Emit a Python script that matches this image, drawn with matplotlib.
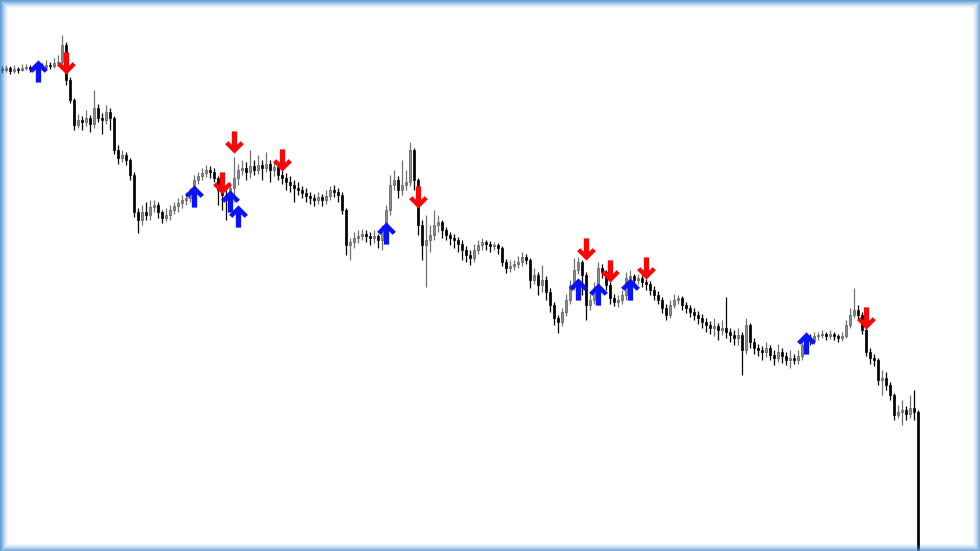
import numpy as np
import matplotlib.pyplot as plt
from matplotlib.path import Path
from matplotlib.patches import Rectangle

first_open = 531
close = [530, 532, 529, 531, 530, 532, 533, 531, 532, 534,
         533, 535, 534, 537, 538, 555, 520, 500, 475, 480,
         478, 482, 476, 492, 482, 480, 488, 482, 450, 442,
         445, 440, 425, 388, 380, 388, 385, 393, 395, 388,
         382, 385, 390, 394, 397, 400, 402, 406, 420, 424,
         427, 430, 428, 422, 410, 405, 400, 412, 422, 430,
         432, 428, 434, 430, 435, 432, 436, 430, 433, 425,
         422, 418, 415, 412, 410, 407, 404, 402, 400, 403,
         400, 404, 410, 408, 405, 390, 355, 358, 362, 364,
         366, 364, 362, 364, 360, 368, 390, 415, 420, 410,
         415, 418, 450, 420, 375, 355, 360, 365, 375, 378,
         370, 365, 362, 360, 356, 350, 345, 342, 350, 355,
         358, 356, 354, 355, 352, 338, 332, 334, 336, 338,
         343, 340, 320, 325, 315, 320, 308, 295, 282, 278,
         288, 300, 315, 330, 338, 325, 295, 300, 310, 332,
         328, 315, 302, 298, 300, 305, 322, 324, 320, 322,
         318, 316, 310, 305, 300, 292, 285, 295, 300, 302,
         295, 292, 288, 285, 282, 278, 275, 272, 274, 270,
         272, 268, 265, 262, 265, 250, 275, 258, 252, 250,
         248, 252, 245, 242, 248, 244, 240, 242, 240, 244,
         255, 263, 260, 264, 265, 266, 264, 266, 264, 262,
         264, 275, 285, 290, 285, 270, 248, 242, 240, 220,
         222, 215, 205, 185, 188, 190, 186, 192, 188, 40]
high = [534, 535, 534, 535, 533, 536, 536, 535, 536, 538,
        537, 540, 538, 542, 545, 565, 558, 523, 502, 486,
        484, 490, 485, 510, 496, 487, 495, 492, 484, 455,
        450, 448, 442, 428, 392, 395, 398, 400, 400, 398,
        390, 392, 395, 398, 402, 405, 408, 412, 425, 428,
        432, 435, 434, 432, 424, 413, 410, 418, 443, 436,
        440, 438, 450, 440, 445, 440, 448, 440, 438, 436,
        430, 427, 424, 420, 418, 414, 412, 408, 406, 408,
        406, 410, 414, 415, 412, 408, 392, 362, 368, 370,
        371, 370, 368, 370, 366, 375, 395, 425, 430, 424,
        440, 430, 458, 452, 422, 380, 385, 375, 390, 385,
        380, 373, 368, 366, 363, 360, 354, 350, 356, 360,
        362, 360, 359, 358, 357, 354, 341, 340, 340, 344,
        348, 346, 342, 332, 328, 335, 324, 312, 298, 285,
        292, 306, 320, 342, 343, 340, 328, 306, 318, 338,
        336, 330, 318, 306, 305, 310, 328, 330, 326, 326,
        325, 321, 319, 314, 309, 303, 296, 300, 306, 305,
        304, 298, 295, 292, 289, 286, 282, 279, 282, 277,
        280, 303, 272, 270, 272, 268, 282, 277, 262, 256,
        254, 258, 255, 250, 256, 252, 248, 250, 246, 250,
        262, 268, 266, 268, 268, 270, 268, 270, 268, 266,
        268, 280, 292, 312, 295, 288, 272, 252, 246, 242,
        230, 228, 218, 207, 195, 200, 194, 205, 210, 190]
low = [527, 528, 526, 527, 527, 529, 530, 528, 529, 530,
       530, 531, 531, 532, 534, 536, 515, 497, 470, 472,
       470, 474, 468, 472, 478, 466, 476, 470, 446, 436,
       438, 435, 420, 383, 367, 375, 380, 380, 388, 382,
       377, 379, 380, 386, 388, 392, 395, 398, 402, 416,
       420, 423, 422, 418, 395, 390, 380, 395, 398, 415,
       425, 420, 422, 425, 426, 420, 428, 418, 424, 420,
       416, 410, 408, 398, 405, 402, 398, 396, 394, 396,
       394, 396, 400, 403, 398, 386, 345, 340, 352, 357,
       360, 358, 355, 357, 352, 350, 364, 385, 410, 402,
       405, 410, 414, 410, 365, 340, 313, 348, 360, 368,
       362, 360, 355, 352, 348, 340, 338, 335, 338, 346,
       350, 350, 348, 350, 346, 334, 327, 328, 330, 332,
       334, 336, 312, 316, 305, 308, 300, 288, 275, 267,
       274, 284, 296, 310, 326, 305, 280, 290, 296, 305,
       322, 310, 296, 294, 293, 296, 300, 318, 315, 316,
       313, 310, 305, 300, 296, 287, 280, 282, 292, 296,
       290, 287, 283, 280, 276, 272, 268, 266, 264, 260,
       265, 262, 258, 255, 255, 225, 246, 252, 246, 244,
       240, 243, 240, 235, 238, 237, 235, 232, 236, 236,
       240, 252, 255, 256, 260, 262, 260, 261, 260, 258,
       259, 262, 272, 282, 280, 266, 244, 236, 234, 215,
       205, 210, 200, 180, 182, 175, 180, 182, 180, 0]

# signal arrows: candle index and price level
buy_idx = [9, 48, 57, 59, 96, 144, 149, 157, 201]
buy_price = [529, 404, 399, 384, 367, 311, 306, 311, 257]
sell_idx = [16, 55, 58, 70, 104, 146, 152, 161, 216]
sell_price = [537, 417, 458, 440, 403, 351, 329, 332, 282]

close = np.array(close, dtype=float)
high = np.array(high, dtype=float)
low = np.array(low, dtype=float)
opn = np.concatenate([[first_open], close[:-1]])
idx = np.arange(len(close))
bull = close >= opn

fig = plt.figure(figsize=(9.8, 5.51), dpi=100)
ax = fig.add_axes([0, 0, 1, 1])
ax.set_xlim(-0.5, 244.5)
ax.set_ylim(49, 600)
ax.axis('off')

wick_col = np.where(bull, '#707070', '#000000')
ax.vlines(idx, low, high, colors=wick_col, linewidth=0.9, zorder=2)
body_h = np.maximum(np.abs(close - opn), 0.8)
ax.bar(idx[bull], body_h[bull], bottom=np.minimum(opn, close)[bull], width=0.7,
       color='#8c8c8c', edgecolor='#5a5a5a', linewidth=0.5, zorder=3)
ax.bar(idx[~bull], body_h[~bull], bottom=np.minimum(opn, close)[~bull], width=0.7,
       color='#000000', edgecolor='#000000', linewidth=0.5, zorder=3)

up_verts = [(0, 1), (0.85, 0.15), (0.55, -0.12), (0.24, 0.2), (0.24, -1),
            (-0.24, -1), (-0.24, 0.2), (-0.55, -0.12), (-0.85, 0.15), (0, 1)]
up_path = Path(up_verts, closed=True)
down_path = Path([(x, -y) for x, y in up_verts], closed=True)

ax.plot(buy_idx, buy_price, linestyle='none', marker=up_path, markersize=16,
        color='#0a14f0', markeredgewidth=0, zorder=5)
ax.plot(sell_idx, sell_price, linestyle='none', marker=down_path, markersize=16,
        color='#f20a0a', markeredgewidth=0, zorder=5)

# blue glow frame
W, H = 980, 551
for k in range(9):
    a = 0.85 * (1 - k / 9) ** 1.8
    fig.add_artist(Rectangle((k / W, k / H), 1 - 2 * k / W, 1 - 2 * k / H,
                             transform=fig.transFigure, fill=False,
                             edgecolor='#4a90d0', linewidth=0.9, alpha=a))

fig.savefig('out.png', dpi=100)
